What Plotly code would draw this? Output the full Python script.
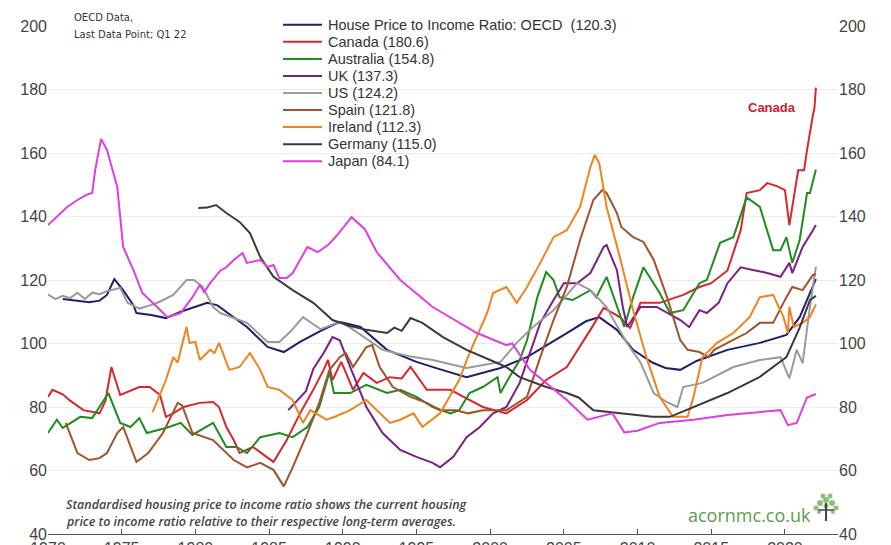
import plotly.graph_objects as go

# ---------------- data ----------------
years_ticks = [1970, 1975, 1980, 1985, 1990, 1995, 2000, 2005, 2010, 2015, 2020]
y_ticks = [40, 60, 80, 100, 120, 140, 160, 180, 200]

oecd_x = [1971.0, 1971.5, 1972.0, 1972.8, 1973.5, 1974.0, 1974.5, 1975.1, 1975.8, 1976.0, 1977.0, 1978.0,
          1979.0, 1980.0, 1980.8, 1981.5, 1982.1, 1983.5, 1984.9, 1986.0, 1987.1, 1988.5, 1989.8, 1991.2,
          1993.0, 1995.0, 1996.5, 1998.4, 2000.7, 2002.5, 2005.2, 2006.5, 2007.4, 2008.6, 2009.7, 2011.0,
          2011.9, 2012.9, 2014.0, 2016.1, 2018.3, 2020.1, 2021.0, 2022.1]
oecd_y = [114.0, 113.7, 113.5, 113.0, 113.5, 115.3, 120.3, 116.8, 112.0, 109.6, 109.0, 108.0,
          110.0, 111.5, 112.8, 112.0, 110.0, 105.2, 98.9, 97.3, 100.5, 104.0, 106.8, 105.2,
          98.0, 94.2, 92.0, 89.4, 92.3, 95.7, 103.3, 107.0, 108.3, 104.3, 98.0, 94.0,
          92.3, 91.7, 94.5, 98.0, 100.2, 102.7, 108.3, 120.3]

canada_x = [1970.0, 1970.3, 1971.0, 1971.5, 1972.4, 1973.5, 1973.9, 1974.3, 1974.9, 1975.5, 1976.2, 1976.9,
            1977.6, 1978.0, 1978.5, 1979.2, 1980.3, 1981.2, 1981.6, 1982.1, 1982.6, 1983.0, 1983.9, 1985.3,
            1986.2, 1987.1, 1988.0, 1988.7, 1989.0, 1989.3, 1989.9, 1990.7, 1991.4, 1992.3, 1993.2, 1994.0,
            1994.6, 1995.7, 1997.3, 1998.2, 1999.5, 2001.1, 2002.5, 2003.8, 2005.2, 2006.8, 2007.7, 2008.8,
            2009.5, 2010.2, 2011.5, 2013.1, 2014.2, 2015.0, 2016.1, 2017.0, 2017.4, 2018.3, 2018.8, 2019.5,
            2020.0, 2020.3, 2020.9, 2021.3, 2021.5, 2021.9, 2022.0, 2022.1]
canada_y = [83.2, 85.4, 84.0, 82.0, 79.0, 78.0, 82.0, 92.6, 83.8, 85.0, 86.3, 86.3,
            83.8, 76.9, 78.0, 80.0, 81.3, 81.6, 80.0, 73.7, 69.6, 65.5, 67.4, 62.7,
            69.6, 78.0, 85.4, 91.7, 94.8, 88.5, 94.2, 85.4, 90.7, 87.6, 89.4, 89.0,
            92.6, 85.4, 85.4, 83.2, 80.0, 78.0, 82.2, 88.5, 92.6, 104.3, 111.2, 108.3,
            104.9, 112.8, 112.8, 115.3, 117.8, 119.0, 123.0, 135.7, 147.4, 148.3, 150.5, 149.5,
            148.3, 137.3, 154.6, 154.6, 161.0, 172.0, 174.0, 180.6]

australia_x = [1970.0, 1970.6, 1971.0, 1972.2, 1973.0, 1973.7, 1974.1, 1974.9, 1975.6, 1976.2, 1976.7, 1978.0,
               1979.0, 1979.8, 1980.7, 1981.2, 1982.1, 1982.8, 1983.5, 1984.4, 1985.7, 1986.6, 1987.6, 1988.4,
               1989.1, 1989.4, 1990.5, 1991.6, 1993.0, 1993.9, 1995.0, 1996.1, 1997.3, 1997.9, 1998.6, 1999.5,
               2000.5, 2000.7, 2001.3, 2002.0, 2002.5, 2003.2, 2003.8, 2004.3, 2004.7, 2005.6, 2006.8, 2007.2,
               2007.9, 2008.6, 2009.1, 2009.7, 2010.4, 2011.5, 2012.2, 2013.1, 2014.2, 2014.7, 2015.6, 2016.5,
               2017.4, 2018.3, 2019.2, 2019.7, 2020.1, 2020.5, 2021.0, 2021.5, 2021.7, 2022.1]
australia_y = [71.8, 76.0, 73.4, 76.9, 76.5, 81.3, 84.4, 75.0, 73.7, 76.5, 71.8, 73.4,
               75.0, 71.2, 73.7, 75.0, 67.4, 67.4, 65.5, 70.5, 71.8, 70.5, 73.7, 80.0,
               91.0, 84.4, 84.4, 87.0, 84.4, 85.4, 83.2, 80.0, 78.0, 79.0, 84.4, 86.3,
               89.4, 84.4, 89.4, 94.8, 101.0, 114.6, 122.5, 120.0, 114.6, 113.7, 116.8, 114.6,
               121.0, 111.5, 105.2, 114.6, 124.0, 115.9, 109.6, 110.5, 119.0, 120.0, 131.7, 133.5,
               146.0, 143.0, 129.4, 129.4, 133.5, 125.4, 132.6, 147.4, 147.4, 154.8]

uk_x = [1986.3, 1987.5, 1988.0, 1988.7, 1989.3, 1989.8, 1990.5, 1991.6, 1992.7, 1993.9, 1995.0, 1996.1,
        1996.6, 1997.5, 1998.4, 1999.3, 2000.2, 2001.1, 2002.0, 2002.7, 2003.4, 2004.3, 2005.0, 2005.9,
        2006.8, 2007.7, 2007.9, 2008.6, 2009.0, 2009.3, 2010.2, 2011.3, 2012.0, 2012.9, 2013.5, 2014.2,
        2014.7, 2015.5, 2016.1, 2017.0, 2017.9, 2018.8, 2019.7, 2020.3, 2020.5, 2021.2, 2021.9, 2022.1]
uk_y = [79.0, 85.0, 92.0, 97.0, 102.0, 101.0, 92.6, 80.0, 71.8, 66.5, 64.3, 62.4,
        61.0, 64.3, 70.5, 73.7, 78.0, 80.0, 87.6, 97.0, 106.5, 113.7, 119.0, 119.0,
        122.2, 130.4, 131.0, 123.1, 111.5, 105.2, 111.5, 111.5, 109.6, 107.4, 105.2, 110.5,
        109.6, 112.8, 119.0, 124.0, 123.1, 122.2, 121.0, 125.4, 122.2, 130.4, 135.7, 137.3]

us_x = [1970.0, 1970.5, 1971.0, 1971.5, 1972.0, 1972.5, 1973.0, 1973.5, 1974.0, 1974.9, 1975.4, 1976.2,
        1976.9, 1977.5, 1978.5, 1979.4, 1979.9, 1980.5, 1981.2, 1981.7, 1983.5, 1984.9, 1985.7, 1986.5,
        1987.3, 1988.5, 1989.8, 1990.5, 1992.7, 1994.5, 1996.1, 1998.4, 2000.7, 2001.8, 2002.9, 2004.3,
        2005.9, 2006.8, 2007.9, 2008.3, 2009.3, 2010.2, 2011.1, 2012.0, 2012.7, 2013.1, 2014.4, 2016.5,
        2018.3, 2019.7, 2020.3, 2020.8, 2021.2, 2021.6, 2022.1]
us_y = [115.5, 114.0, 115.0, 114.3, 116.0, 114.0, 116.0, 115.5, 116.5, 117.5, 112.8, 111.0,
        112.0, 113.0, 115.3, 120.0, 120.0, 117.8, 111.5, 109.6, 106.5, 100.5, 100.5, 104.0,
        108.3, 104.5, 106.8, 105.0, 98.0, 96.0, 94.8, 92.3, 94.2, 100.2, 105.2, 110.5,
        119.0, 116.8, 111.5, 108.0, 100.0, 94.0, 84.4, 81.5, 80.0, 86.3, 87.6, 92.6,
        94.8, 95.7, 89.0, 98.0, 93.8, 108.3, 124.2]

spain_x = [1971.2, 1972.0, 1972.8, 1973.5, 1974.0, 1974.7, 1975.1, 1976.0, 1976.8, 1977.8, 1978.8, 1979.1,
           1979.8, 1981.2, 1982.6, 1983.5, 1984.4, 1985.3, 1986.0, 1986.6, 1987.6, 1988.4, 1989.1, 1989.8,
           1990.2, 1990.7, 1991.6, 1992.0, 1992.5, 1993.4, 1994.6, 1995.7, 1996.6, 1997.7, 1998.5, 1999.5,
           2001.1, 2002.5, 2003.4, 2004.3, 2005.2, 2006.1, 2007.0, 2007.6, 2007.9, 2008.6, 2008.9, 2009.7,
           2010.4, 2011.1, 2012.0, 2012.9, 2013.4, 2014.2, 2014.8, 2015.2, 2016.1, 2017.4, 2018.3, 2019.2,
           2020.1, 2020.5, 2021.2, 2021.9, 2022.1]
spain_y = [75.0, 65.5, 63.3, 63.9, 65.5, 71.8, 73.7, 62.7, 65.5, 71.8, 81.3, 80.5,
           71.8, 69.6, 63.3, 61.0, 62.4, 60.2, 55.0, 61.0, 71.8, 81.3, 91.7, 95.7,
           97.0, 92.6, 98.9, 99.5, 92.6, 86.3, 83.2, 81.3, 79.0, 79.0, 78.0, 79.0,
           79.0, 83.2, 95.7, 107.4, 117.8, 132.6, 145.2, 148.3, 147.4, 141.1, 136.7, 133.5,
           132.0, 126.3, 114.6, 101.0, 98.0, 97.3, 95.7, 98.0, 100.2, 103.3, 106.5, 106.5,
           114.6, 117.8, 116.8, 121.6, 121.8]

ireland_x = [1977.1, 1978.0, 1978.5, 1978.8, 1979.4, 1979.6, 1980.0, 1980.3, 1981.0, 1981.3, 1981.6, 1982.3,
             1983.0, 1983.7, 1984.4, 1984.9, 1985.7, 1986.6, 1987.3, 1987.8, 1988.9, 1989.5, 1990.5, 1991.6,
             1993.2, 1993.9, 1994.8, 1995.4, 1996.6, 1997.0, 1997.9, 1998.6, 1999.8, 2000.2, 2001.1, 2001.8,
             2002.5, 2003.4, 2004.3, 2005.2, 2006.1, 2006.8, 2007.1, 2007.4, 2007.9, 2008.8, 2009.7, 2010.6,
             2011.5, 2012.4, 2013.4, 2013.8, 2014.4, 2015.4, 2016.5, 2017.6, 2018.3, 2019.2, 2019.9, 2020.2,
             2020.3, 2020.6, 2021.2, 2021.7, 2022.1]
ireland_y = [78.4, 88.5, 95.7, 94.0, 105.2, 100.2, 100.5, 94.8, 98.0, 97.0, 100.2, 91.7,
             92.6, 97.0, 91.7, 86.3, 85.4, 82.2, 75.0, 79.0, 76.0, 77.0, 79.0, 82.2,
             75.0, 76.0, 78.0, 73.7, 78.0, 81.3, 88.5, 97.0, 109.6, 115.9, 117.8, 112.8,
             117.8, 125.4, 133.5, 135.7, 143.0, 155.6, 159.4, 156.8, 143.0, 127.2, 110.5, 95.7,
             83.2, 76.9, 76.9, 83.2, 95.7, 100.2, 103.3, 108.3, 114.6, 115.3, 108.3, 103.3,
             111.5, 105.2, 106.5, 108.3, 112.3]

germany_x = [1980.2, 1980.8, 1981.4, 1982.1, 1983.0, 1983.7, 1984.4, 1985.3, 1986.6, 1988.0, 1989.3, 1990.5,
             1991.6, 1993.0, 1993.5, 1994.0, 1994.6, 1995.4, 1996.8, 1998.4, 2000.0, 2001.1, 2002.0, 2003.8,
             2005.2, 2006.0, 2007.0, 2008.8, 2011.0, 2012.2, 2013.8, 2016.1, 2018.3, 2020.1, 2021.0, 2021.7,
             2022.1]
germany_y = [142.7, 142.8, 143.6, 141.1, 138.3, 134.8, 127.2, 121.0, 116.8, 112.8, 107.4, 105.5,
             104.3, 103.3, 105.0, 104.0, 108.0, 106.5, 102.0, 98.0, 94.8, 92.6, 89.4, 86.3,
             84.4, 83.0, 79.0, 78.0, 76.9, 76.9, 80.0, 84.4, 89.5, 95.7, 105.0, 113.7,
             115.0]

japan_x = [1970.0, 1971.3, 1972.0, 1972.6, 1973.0, 1973.2, 1973.6, 1974.0, 1974.7, 1975.1, 1975.8, 1976.4,
           1977.4, 1978.1, 1979.0, 1979.8, 1980.3, 1980.6, 1981.0, 1981.7, 1982.1, 1982.6, 1983.2, 1983.5,
           1984.4, 1984.9, 1985.3, 1985.7, 1986.2, 1986.6, 1987.6, 1988.3, 1989.0, 1989.6, 1990.6, 1991.0,
           1991.5, 1992.3, 1993.9, 1996.1, 1999.1, 2001.1, 2001.5, 2002.7, 2005.2, 2006.6, 2008.3, 2009.1,
           2010.0, 2011.5, 2013.8, 2016.1, 2018.3, 2019.7, 2020.2, 2020.8, 2021.5, 2022.1]
japan_y = [137.3, 143.0, 145.2, 146.8, 147.4, 154.6, 164.4, 161.0, 149.3, 130.4, 123.1, 115.9,
           111.5, 108.3, 109.6, 114.6, 118.4, 116.2, 119.0, 123.0, 124.0, 126.3, 128.5, 125.4,
           126.3, 124.1, 124.7, 120.6, 120.6, 122.2, 130.4, 128.8, 131.0, 134.0, 139.8, 138.0,
           136.0, 128.8, 120.0, 111.5, 103.3, 99.5, 100.0, 91.7, 82.2, 76.0, 78.0, 72.0,
           72.5, 75.0, 76.0, 77.5, 78.4, 79.0, 74.3, 75.0, 83.0, 84.1]

names = ["House Price to Income Ratio: OECD\u00a0\u00a0(120.3)", "Canada (180.6)", "Australia (154.8)",
         "UK (137.3)", "US (124.2)", "Spain (121.8)", "Ireland (112.3)", "Germany (115.0)", "Japan (84.1)"]
colors = ["#1f1f6e", "#d8262e", "#1e8c1e", "#7a1f86", "#9a9a9a", "#a0522d", "#f2821e", "#3a3a3a", "#e03ee0"]
xs = [oecd_x, canada_x, australia_x, uk_x, us_x, spain_x, ireland_x, germany_x, japan_x]
ys = [oecd_y, canada_y, australia_y, uk_y, us_y, spain_y, ireland_y, germany_y, japan_y]

# ---------------- layout geometry (screen pixels) ----------------
W, H = 891, 545
OFF = 8                      # page offset of the figure in the screenshot
L, R, T, B = 48, 838, 26, 534  # plot area in screenshot pixels


def px(xp):
    return (xp - L) / (R - L)


def py(yp):
    return (B - yp) / (B - T)


fig = go.Figure()
for n, x, y, c in zip(names, xs, ys, colors):
    fig.add_trace(go.Scatter(x=x, y=y, mode="lines", name=n,
                             line=dict(color=c, width=2), showlegend=False))
# binds the right-hand axis
fig.add_trace(go.Scatter(x=[], y=[], yaxis="y2", showlegend=False))

shapes = []
annotations = []

# manual legend
leg_top, leg_step = 24.8, 17.05
for i, (n, c) in enumerate(zip(names, colors)):
    yy = leg_top + i * leg_step
    shapes.append(dict(type="line", xref="paper", yref="paper",
                       x0=px(283), x1=px(322), y0=py(yy), y1=py(yy),
                       line=dict(color=c, width=2)))
    annotations.append(dict(xref="paper", yref="paper", x=px(326), y=py(yy),
                            xanchor="left", yanchor="middle", showarrow=False,
                            text=n, font=dict(family="Liberation Sans, Arial", size=14.5, color="#333333")))

# top-left note
annotations.append(dict(xref="paper", yref="paper", x=px(72), y=py(17), xanchor="left", yanchor="middle",
                        showarrow=False, text="OECD Data,",
                        font=dict(family="DejaVu Sans", size=10, color="#333333")))
annotations.append(dict(xref="paper", yref="paper", x=px(72), y=py(35), xanchor="left", yanchor="middle",
                        showarrow=False, text="Last Data Point; Q1 22",
                        font=dict(family="DejaVu Sans", size=10, color="#333333")))

# Canada label
annotations.append(dict(xref="paper", yref="paper", x=px(772), y=py(107), xanchor="center", yanchor="middle",
                        showarrow=False, text="<b>Canada</b>",
                        font=dict(family="Liberation Sans, Arial", size=13, color="#cc2229")))

# caption
annotations.append(dict(xref="paper", yref="paper", x=px(64), y=py(504), xanchor="left", yanchor="middle",
                        showarrow=False,
                        text="<i>Standardised housing price to income ratio shows the current housing</i>",
                        font=dict(family="Open Sans", size=12.5, color="#444444", weight=600)))
annotations.append(dict(xref="paper", yref="paper", x=px(64), y=py(521), xanchor="left", yanchor="middle",
                        showarrow=False,
                        text="<i>price to income ratio relative to their respective long-term averages.</i>",
                        font=dict(family="Open Sans", size=12.5, color="#444444", weight=600)))

# logo text
annotations.append(dict(xref="paper", yref="paper", x=px(686), y=py(515), xanchor="left", yanchor="middle",
                        showarrow=False, text="acornmc.co.uk",
                        font=dict(family="Open Sans", size=18, color="#5e9c4c")))

# small tree icon
for cx, cy, r in [(826, 500, 3), (820, 503, 3), (832, 503, 3), (816, 508, 2.5), (836, 508, 2.5),
                  (823, 496, 2.5), (830, 496, 2.5), (826, 506, 2.5), (819, 512, 2), (833, 512, 2)]:
    shapes.append(dict(type="circle", xref="paper", yref="paper",
                       x0=px(cx - r), x1=px(cx + r), y0=py(cy + r), y1=py(cy - r),
                       fillcolor="#8cc07a", line=dict(width=0), layer="above"))
shapes.append(dict(type="line", xref="paper", yref="paper", x0=px(826), x1=px(826), y0=py(521), y1=py(503),
                   line=dict(color="#3b4a3b", width=2)))
shapes.append(dict(type="line", xref="paper", yref="paper", x0=px(818), x1=px(834), y0=py(510), y1=py(510),
                   line=dict(color="#3b4a3b", width=1.5)))

tickfont = dict(family="Liberation Sans, Arial", size=16, color="#444444")

fig.update_layout(
    width=W, height=H,
    margin=dict(l=L - OFF, r=W - (R - OFF), t=T - OFF, b=H - (B - OFF), pad=0, autoexpand=False),
    paper_bgcolor="white", plot_bgcolor="white",
    showlegend=False,
    shapes=shapes, annotations=annotations,
    xaxis=dict(range=[1970, 2023.6], tickvals=years_ticks, ticktext=[str(v) for v in years_ticks],
               showgrid=False, zeroline=False, showline=True, linecolor="#555555", linewidth=1,
               ticks="inside", ticklen=5, tickcolor="#555555", tickfont=tickfont, automargin=False),
    yaxis=dict(range=[40, 200], tickvals=y_ticks, showgrid=True, gridcolor="#ececec", gridwidth=1,
               zeroline=False, showline=False, ticks="", tickfont=tickfont, automargin=False),
    yaxis2=dict(range=[40, 200], tickvals=y_ticks, overlaying="y", side="right", showgrid=False,
                zeroline=False, showline=False, ticks="", tickfont=tickfont, automargin=False),
)

fig.write_html("out.html")
